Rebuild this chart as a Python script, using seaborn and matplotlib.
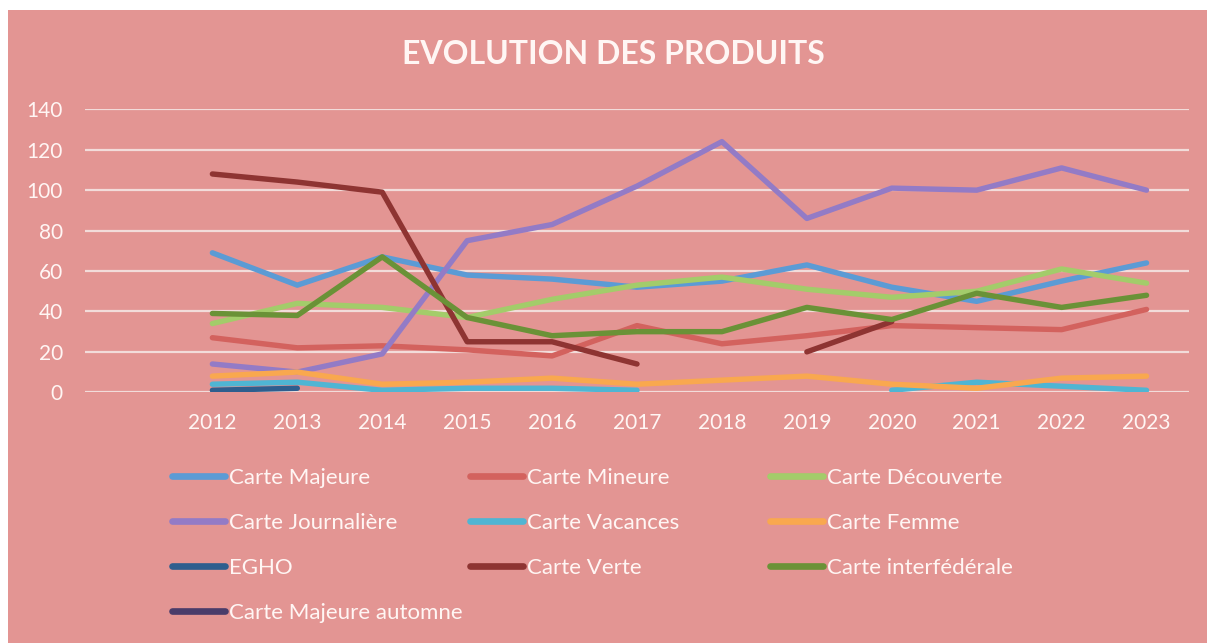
import numpy as np
import pandas as pd
import matplotlib.pyplot as plt
import seaborn as sns
from matplotlib.lines import Line2D
from matplotlib.patches import Rectangle

# Data (None = no value that year)
annees = list(range(2012, 2024))

carte_majeure = [69, 53, 67, 58, 56, 52, 55, 63, 52, 45, 55, 64]
carte_mineure = [27, 22, 23, 21, 18, 33, 24, 28, 33, 32, 31, 41]
carte_decouverte = [34, 44, 42, 37, 46, 53, 57, 51, 47, 50, 61, 54]
carte_journaliere = [14, 10, 19, 75, 83, 102, 124, 86, 101, 100, 111, 100]
carte_vacances = [4, 5, 1, 2, 2, 1, None, None, 1, 5, 3, 1]
carte_femme = [8, 10, 4, 5, 7, 4, 6, 8, 4, 2, 7, 8]
egho = [1, 2, None, None, None, None, None, None, None, None, None, None]
carte_verte = [108, 104, 99, 25, 25, 14, None, 20, 35, None, None, None]
carte_interfederale = [39, 38, 67, 37, 28, 30, 30, 42, 36, 49, 42, 48]
carte_majeure_automne = [None] * 12

produits = ["Carte Majeure", "Carte Mineure", "Carte Découverte",
            "Carte Journalière", "Carte Vacances", "Carte Femme",
            "EGHO", "Carte Verte", "Carte interfédérale",
            "Carte Majeure automne"]
series = [carte_majeure, carte_mineure, carte_decouverte, carte_journaliere,
          carte_vacances, carte_femme, egho, carte_verte,
          carte_interfederale, carte_majeure_automne]
couleurs = ["#5B9BD5", "#D3625E", "#A3CC6A", "#937BC6", "#4FB5D3",
            "#F9A84F", "#2E5E8E", "#8E3432", "#6A9237", "#4A3C6A"]

# long format, one unit per continuous segment so gaps stay open
rows = []
for nom, vals in zip(produits, series):
    seg = 0
    for an, v in zip(annees, vals):
        if v is None:
            seg += 1
            continue
        rows.append({"annee": an, "valeur": v, "produit": nom,
                     "segment": f"{nom}-{seg}"})
df = pd.DataFrame(rows)

sns.set_theme(style="white")
plt.rcParams['font.family'] = ['Lato', 'DejaVu Sans']

bg = "#E39593"
txt = "#FFF6F4"
fig = plt.figure(figsize=(12.07, 6.43), dpi=100, facecolor="white")
fig.patches.append(Rectangle((8 / 1207, 0), 1, 1 - 10 / 643,
                             transform=fig.transFigure, facecolor=bg,
                             edgecolor="none", zorder=-10))

ax = fig.add_axes([85 / 1207, 1 - 392.3 / 643, (1189 - 85) / 1207, 283 / 643])
ax.set_facecolor(bg)
ax.patch.set_alpha(0)

palette = dict(zip(produits, couleurs))
sns.lineplot(data=df, x="annee", y="valeur", hue="produit", units="segment",
             estimator=None, palette=palette, linewidth=3.9, legend=False,
             sort=False, ax=ax, solid_capstyle="round")

ax.set_xlim(2010.5, 2023.5)
ax.set_ylim(0, 140)
ax.set_xticks(annees)
ax.set_xticklabels([str(a) for a in annees])
ax.set_yticks(range(0, 141, 20))
ax.yaxis.grid(True, color="#F2DCDA", linewidth=1.6)
ax.set_axisbelow(True)
for s in ax.spines.values():
    s.set_visible(False)
ax.tick_params(axis="x", length=0, pad=15, labelsize=15, labelcolor=txt)
ax.tick_params(axis="y", length=0, pad=16, labelsize=15, labelcolor=txt)
ax.set_xlabel("")
ax.set_ylabel("")

fig.text(613 / 1207, 1 - 55 / 643, "EVOLUTION DES PRODUITS", ha="center",
         va="center", fontsize=23, fontweight="bold", color=txt)

# legend in three fixed columns like the original
handles = [Line2D([], [], color=c, linewidth=4.8, solid_capstyle="round")
           for c in couleurs]
colonnes = [[0, 3, 6, 9], [1, 4, 7], [2, 5, 8]]
x_cols = [172, 470, 770]
for idx, xc in zip(colonnes, x_cols):
    leg = fig.legend([handles[i] for i in idx], [produits[i] for i in idx],
                     loc="upper left", bbox_to_anchor=(xc / 1207, 1 - 468 / 643),
                     frameon=False, fontsize=16, handlelength=2.4,
                     handletextpad=0.18, labelspacing=1.12, borderpad=0,
                     borderaxespad=0)
    for t in leg.get_texts():
        t.set_color(txt)

fig.savefig("out.png", dpi=100, facecolor="white")
